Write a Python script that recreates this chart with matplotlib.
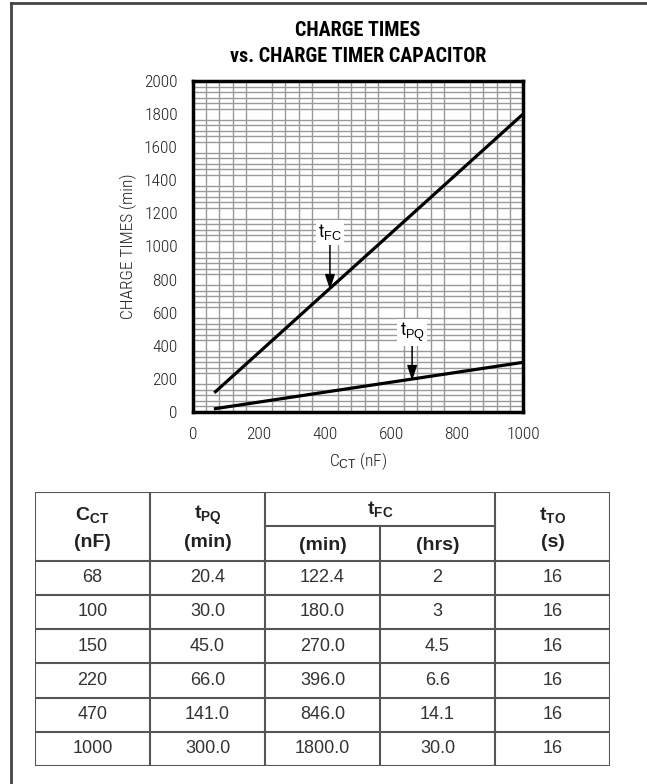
import numpy as np
import matplotlib
matplotlib.use("Agg")
import matplotlib.pyplot as plt
from matplotlib.lines import Line2D

# datos de la tabla
c_ct = [68, 100, 150, 220, 470, 1000]
t_pq = [20.4, 30.0, 45.0, 66.0, 141.0, 300.0]
t_fc_min = [122.4, 180.0, 270.0, 396.0, 846.0, 1800.0]
t_fc_hrs = ["2", "3", "4.5", "6.6", "14.1", "30.0"]
t_to = [16, 16, 16, 16, 16, 16]

x_ticks = [0, 200, 400, 600, 800, 1000]
y_ticks = [0, 200, 400, 600, 800, 1000, 1200, 1400, 1600, 1800, 2000]

narrow = ["Roboto Condensed", "Liberation Sans Narrow", "Liberation Sans", "DejaVu Sans"]
plt.rcParams["mathtext.fontset"] = "custom"
plt.rcParams["mathtext.rm"] = "Liberation Sans"
plt.rcParams["mathtext.bf"] = "Liberation Sans:bold"
plt.rcParams["mathtext.it"] = "Liberation Sans"

W, H = 647, 784
fig = plt.figure(figsize=(W / 100, H / 100), dpi=100)

# marco exterior (solo arriba e izquierda)
fig.add_artist(Line2D([11 / W, 1], [1 - 3 / H, 1 - 3 / H], color="#444", lw=2))
fig.add_artist(Line2D([11 / W, 11 / W], [0, 1 - 3 / H], color="#444", lw=2))

# --------------------------
# grafica
ax = fig.add_axes([193 / W, 1 - 412 / H, 330 / W, 331 / H])
ax.set_xlim(0, 1000)
ax.set_ylim(0, 2000)
ax.set_xticks(x_ticks)
ax.set_yticks(y_ticks)
ax.set_xticks(np.arange(0, 1001, 40), minor=True)
ax.set_yticks(np.linspace(0, 2000, 61), minor=True)
ax.grid(which="minor", color="#999999", lw=1.0)
ax.tick_params(which="both", length=0, labelsize=12.5, labelcolor="#222")
ax.tick_params(axis="x", pad=11)
ax.tick_params(axis="y", pad=11)
for lab in ax.get_xticklabels() + ax.get_yticklabels():
    lab.set_family(narrow)
    lab.set_fontweight("light")
for s in ax.spines.values():
    s.set_linewidth(2.5)
ax.set_axisbelow(True)

ax.plot([c_ct[0], c_ct[-1]], [t_fc_min[0], t_fc_min[-1]], color="black", lw=2.3)
ax.plot([c_ct[0], c_ct[-1]], [t_pq[0], t_pq[-1]], color="black", lw=2.3)

flecha = dict(arrowstyle="-|>,head_length=0.9,head_width=0.3", color="black", lw=1.1,
              shrinkA=0, shrinkB=0)
ax.annotate("", xy=(415, 740), xytext=(415, 1010), arrowprops=flecha)
ax.text(415, 1085, r"t$_{\mathrm{FC}}$", ha="center", va="center", fontsize=13,
        family=narrow, bbox=dict(facecolor="white", edgecolor="none", pad=1.5))
ax.annotate("", xy=(664, 190), xytext=(664, 400), arrowprops=flecha)
ax.text(664, 480, r"t$_{\mathrm{PQ}}$", ha="center", va="center", fontsize=13,
        family=narrow, bbox=dict(facecolor="white", edgecolor="none", pad=1.5))

ax.set_ylabel("CHARGE TIMES (min)", fontsize=12.5, family=narrow, fontweight="light",
              labelpad=5, color="#222")
ax.set_xlabel(r"C$_{\mathrm{CT}}$ (nF)", fontsize=12.5, family=narrow, fontweight="light",
              labelpad=6, color="#222")

titulo = dict(ha="center", va="center", fontsize=14.5, fontweight="black",
              family=["Roboto Condensed", "Roboto", "DejaVu Sans"])
fig.text(358 / W, 1 - 30 / H, "CHARGE TIMES", **titulo)
fig.text(358 / W, 1 - 57 / H, "vs. CHARGE TIMER CAPACITOR", **titulo)

# --------------------------
# tabla
tb = fig.add_axes([35 / W, 1 - 766 / H, 575 / W, 274 / H])
tb.set_xlim(0, 5)
tb.set_ylim(8, 0)
tb.axis("off")
gris = "#555"
kw = dict(color=gris, lw=1.5, solid_capstyle="projecting")
tb.plot([0, 5, 5, 0, 0], [0, 0, 8, 8, 0], **kw)
for xc in [1, 2, 4]:
    tb.plot([xc, xc], [0, 8], **kw)
tb.plot([3, 3], [1, 8], **kw)
tb.plot([2, 4], [1, 1], **kw)
for yr in range(2, 8):
    tb.plot([0, 5], [yr, yr], **kw)

hk = dict(ha="center", va="center", fontsize=14, fontweight="bold", family="Liberation Sans",
          color="#222")
tb.text(0.5, 0.67, r"C$_{\mathbf{CT}}$", **hk)
tb.text(0.5, 1.46, "(nF)", **hk)
tb.text(1.5, 0.67, r"t$_{\mathbf{PQ}}$", **hk)
tb.text(1.5, 1.46, "(min)", **hk)
tb.text(3.0, 0.5, r"t$_{\mathbf{FC}}$", **hk)
tb.text(2.5, 1.55, "(min)", **hk)
tb.text(3.5, 1.55, "(hrs)", **hk)
tb.text(4.5, 0.67, r"t$_{\mathbf{TO}}$", **hk)
tb.text(4.5, 1.46, "(s)", **hk)

dk = dict(ha="center", va="center", fontsize=13, family="Liberation Sans", color="#333")
for i in range(len(c_ct)):
    y = 2.5 + i
    tb.text(0.5, y, str(c_ct[i]), **dk)
    tb.text(1.5, y, f"{t_pq[i]:.1f}", **dk)
    tb.text(2.5, y, f"{t_fc_min[i]:.1f}", **dk)
    tb.text(3.5, y, t_fc_hrs[i], **dk)
    tb.text(4.5, y, str(t_to[i]), **dk)

fig.savefig("out.png", dpi=100)
